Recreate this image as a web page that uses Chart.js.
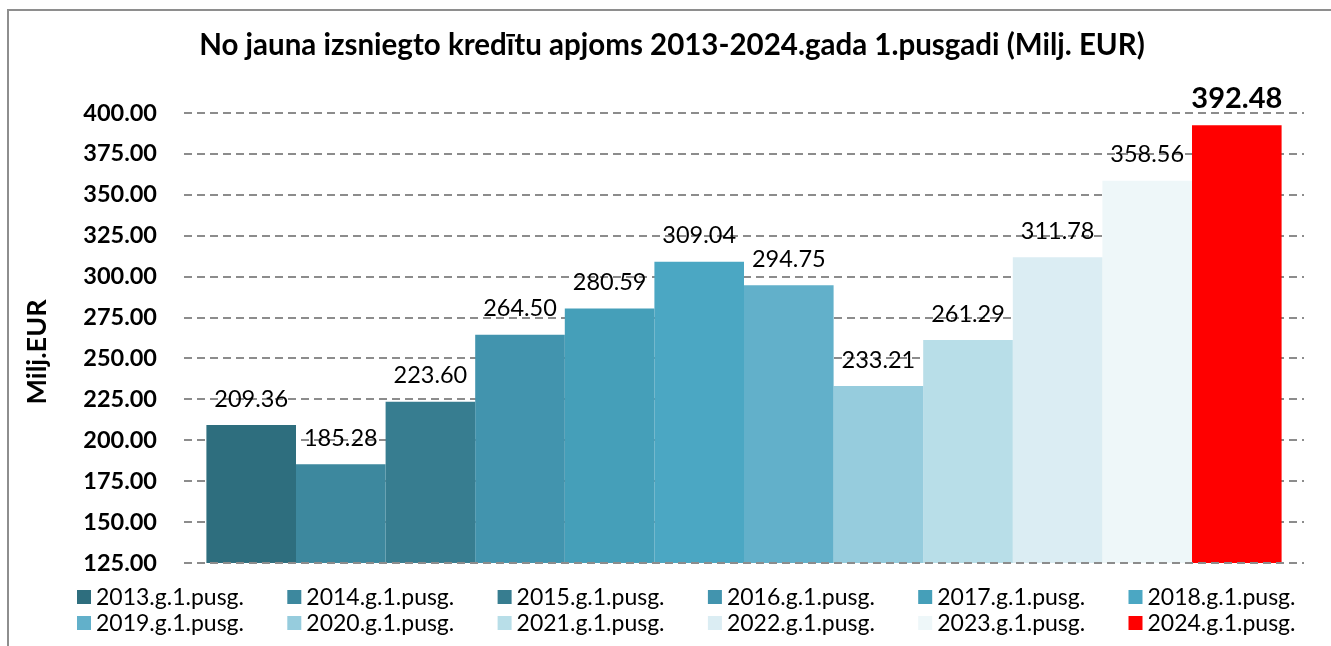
<!DOCTYPE html>
<html><head><meta charset="utf-8">
<script src="https://cdn.jsdelivr.net/npm/chart.js@4.4.1/dist/chart.umd.min.js"></script>
<style>
html,body{margin:0;padding:0;background:#fff;}
#wrap{position:relative;width:1331px;height:646px;overflow:hidden;}
#frame{position:absolute;left:7px;top:9px;width:1340px;height:660px;border-top:2px solid #8e8e8e;border-left:2px solid #8e8e8e;pointer-events:none;}
canvas{position:absolute;left:0;top:0;}
</style></head><body>
<div id="wrap"><canvas id="c" width="1331" height="646"></canvas><div id="frame"></div></div>
<script>
const categories = ['2013.g.1.pusg.','2014.g.1.pusg.','2015.g.1.pusg.','2016.g.1.pusg.','2017.g.1.pusg.','2018.g.1.pusg.','2019.g.1.pusg.','2020.g.1.pusg.','2021.g.1.pusg.','2022.g.1.pusg.','2023.g.1.pusg.','2024.g.1.pusg.'];
const values = [209.36, 185.28, 223.60, 264.50, 280.59, 309.04, 294.75, 233.21, 261.29, 311.78, 358.56, 392.48];
const colors = ['#2E6E7E','#3D889E','#377D90','#4294AE','#459FB9','#4BA7C3','#62B0CA','#96CCDD','#B8DEE8','#DBEDF3','#EEF7F9','#FF0000'];
const yMin = 125, yMax = 400, yStep = 25;
const chartTitle = 'No jauna izsniegto kredītu apjoms 2013-2024.gada 1.pusgadi (Milj. EUR)';
const yTitle = 'Milj.EUR';

const FONT = 'Lato, "Noto Sans", sans-serif';

const valueLabels = {
  id: 'valueLabels',
  afterDatasetsDraw(chart) {
    const ctx = chart.ctx;
    const ys = chart.scales.y, area = chart.chartArea;
    ctx.save();
    // baseline dashed grid line shows over the bars
    ctx.strokeStyle = '#8c8c8c';
    ctx.lineWidth = 2;
    ctx.setLineDash([8, 5]);
    const by = Math.round(ys.getPixelForValue(yMin));
    ctx.beginPath();
    ctx.moveTo(area.left, by);
    ctx.lineTo(area.right, by);
    ctx.stroke();
    ctx.setLineDash([]);
    ctx.textAlign = 'center';
    ctx.textBaseline = 'middle';
    chart.data.datasets.forEach((ds, i) => {
      const el = chart.getDatasetMeta(i).data[0];
      const last = i === chart.data.datasets.length - 1;
      ctx.fillStyle = '#000';
      ctx.font = (last ? 'bold 29px ' : '23.5px ') + FONT;
      ctx.fillText(ds.data[0].toFixed(2), el.x, el.y - (last ? 27 : 26));
    });
    ctx.restore();
  }
};

const texts = {
  id: 'texts',
  afterDraw(chart) {
    const ctx = chart.ctx;
    ctx.save();
    ctx.fillStyle = '#000';
    ctx.textAlign = 'center';
    ctx.textBaseline = 'middle';
    ctx.font = 'bold 29.5px ' + FONT;
    ctx.fillText(chartTitle, 672, 45);
    ctx.translate(37, 352);
    ctx.rotate(-Math.PI / 2);
    ctx.font = 'bold 27px ' + FONT;
    ctx.fillText(yTitle, 0, 0);
    ctx.restore();
  }
};

const gridLegend = {
  id: 'gridLegend',
  afterDraw(chart) {
    const ctx = chart.ctx;
    ctx.save();
    ctx.textBaseline = 'middle';
    ctx.textAlign = 'left';
    ctx.font = '23px ' + FONT;
    chart.data.datasets.forEach((ds, i) => {
      const col = i % 6, row = Math.floor(i / 6);
      const bx = 77 + col * 210.3;
      const by = row ? 623 : 597;
      ctx.fillStyle = ds.backgroundColor;
      ctx.fillRect(bx, by - 7, 14, 14);
      ctx.fillStyle = '#000';
      ctx.fillText(ds.label, bx + 19, by + 1);
    });
    ctx.restore();
  }
};

new Chart(document.getElementById('c'), {
  type: 'bar',
  data: {
    labels: [''],
    datasets: categories.map((name, i) => ({
      label: name,
      data: [values[i]],
      backgroundColor: colors[i],
      borderWidth: 0,
      categoryPercentage: 0.96,
      barPercentage: 1.0
    }))
  },
  options: {
    responsive: false,
    animation: false,
    layout: { padding: { left: 0, right: 27, top: 113, bottom: 83 } },
    plugins: {
      legend: { display: false },
      tooltip: { enabled: false },
      title: { display: false }
    },
    scales: {
      x: { display: false },
      y: {
        min: yMin, max: yMax,
        afterFit(s) { s.width = 184; },
        border: { display: false, dash: [8, 5] },
        grid: { color: '#8c8c8c', lineWidth: 2, drawTicks: false },
        ticks: {
          stepSize: yStep,
          padding: 27,
          color: '#000',
          font: { family: FONT, size: 23.5, weight: 'bold' },
          callback: v => Number(v).toFixed(2)
        },
        title: { display: false }
      }
    }
  },
  plugins: [valueLabels, texts, gridLegend]
});
</script>
</body></html>
